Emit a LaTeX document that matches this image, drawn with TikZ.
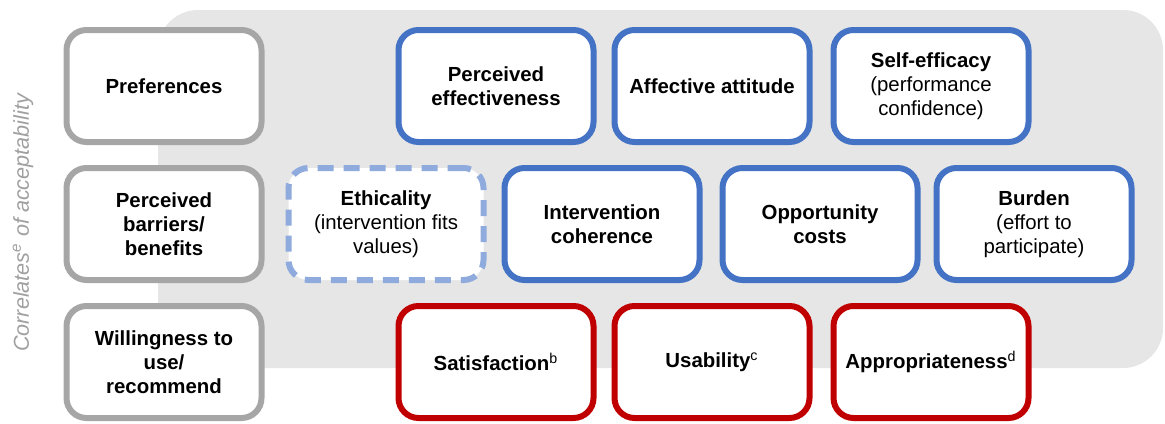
\documentclass[tikz,border=0pt]{standalone}
\usepackage{fontspec}
\setmainfont{Liberation Sans}
\definecolor{boxgray}{HTML}{A6A6A6}
\definecolor{boxblue}{HTML}{4472C4}
\definecolor{boxlight}{HTML}{8FAADC}
\definecolor{boxred}{HTML}{C00000}
\definecolor{bggray}{HTML}{E6E6E6}
\definecolor{labelgray}{HTML}{A0A0A0}
\begin{document}
\begin{tikzpicture}[x=0.5pt,y=-0.5pt,
    box/.style={draw,fill=white,rounded corners=10pt,line width=3pt,
      minimum width=97.5pt,minimum height=56pt,inner sep=2pt,align=center,
      font=\fontsize{10.2}{12}\selectfont\bfseries},
    greybox/.style={box,draw=boxgray},
    bluebox/.style={box,draw=boxblue},
    dashbox/.style={box,draw=boxlight,dash pattern=on 8pt off 5pt},
    redbox/.style={box,draw=boxred}]
  \useasboundingbox (0,0) rectangle (1165,423);
  % grey panel
  \fill[bggray,rounded corners=20pt] (158,10) rectangle (1163,368);
  \node[rotate=90,text=labelgray,font=\fontsize{10.8}{12}\selectfont\itshape] (lbl) at (23,223)
    {Correlates\textsuperscript{e} of acceptability};
  % left column
  \node[greybox] (pref) at (164,86) {Preferences};
  \node[greybox] (barr) at (164,224) {Perceived\\barriers/\\benefits};
  \node[greybox] (will) at (164,362) {Willingness to\\use/\\recommend};
  % row 1
  \node[bluebox] (peff) at (496,86) {Perceived\\effectiveness};
  \node[bluebox] (aff)  at (712,86) {Affective attitude};
  \node[bluebox] (self) at (931,86) {Self-efficacy\\\mdseries(performance\\\mdseries confidence)};
  % row 2
  \node[dashbox] (eth)  at (386,224) {Ethicality\\\mdseries(intervention fits\\\mdseries values)};
  \node[bluebox] (coh)  at (602,224) {Intervention\\coherence};
  \node[bluebox] (opp)  at (820,224) {Opportunity\\costs};
  \node[bluebox] (bur)  at (1034,224) {Burden\\\mdseries(effort to\\\mdseries participate)};
  % row 3
  \node[redbox] (sat) at (496,362) {Satisfaction\textsuperscript{\mdseries b}};
  \node[redbox] (usa) at (712,362) {Usability\textsuperscript{\mdseries c}};
  \node[redbox] (app) at (931,362) {Appropriateness\textsuperscript{\mdseries d}};
\end{tikzpicture}
\end{document}
